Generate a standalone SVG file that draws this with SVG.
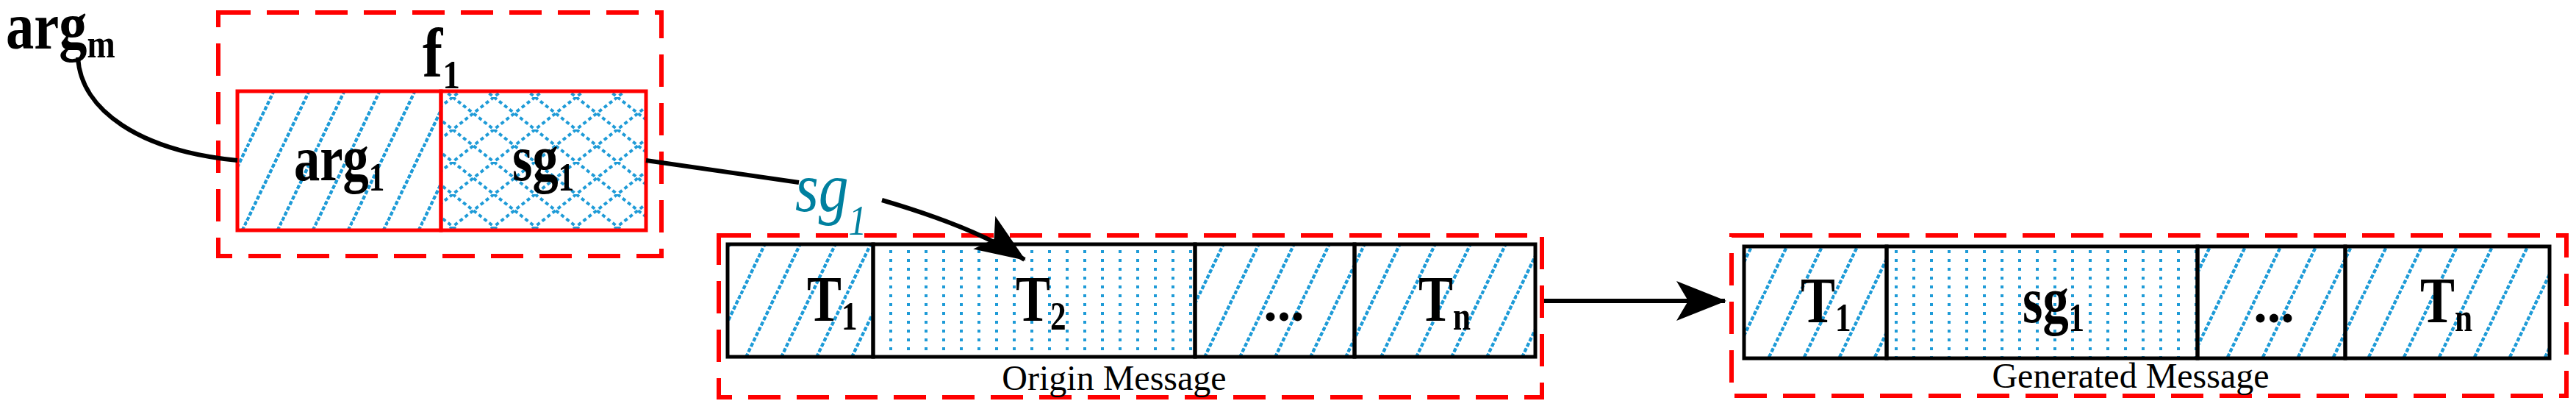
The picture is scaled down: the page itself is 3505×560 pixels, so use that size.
<svg xmlns="http://www.w3.org/2000/svg" width="3505" height="560" viewBox="0 0 3505 560">
<defs>
<pattern id="hatch" patternUnits="userSpaceOnUse" width="48" height="100">
<line x1="-24" y1="150" x2="48" y2="0" stroke="#1E9BD7" stroke-width="4" stroke-dasharray="5 3"/>
<line x1="0" y1="100" x2="48" y2="0" stroke="#1E9BD7" stroke-width="4" stroke-dasharray="5 3"/>
<line x1="24" y1="150" x2="72" y2="50" stroke="#1E9BD7" stroke-width="4" stroke-dasharray="5 3"/>
<line x1="-24" y1="50" x2="24" y2="-50" stroke="#1E9BD7" stroke-width="4" stroke-dasharray="5 3"/>
</pattern>
<pattern id="cross" patternUnits="userSpaceOnUse" width="56" height="44">
<path d="M0,0 L56,44 M56,0 L0,44" stroke="#1E9BD7" stroke-width="4" stroke-dasharray="5 4"/>
</pattern>
<pattern id="dots" patternUnits="userSpaceOnUse" width="24" height="12">
<rect x="10" y="4" width="4" height="4" fill="#1E9BD7"/>
</pattern>
<marker id="ah" markerUnits="userSpaceOnUse" markerWidth="70" markerHeight="70" viewBox="0 0 70 70" refX="66" refY="35" orient="auto">
<path d="M0,8 L68,35 L0,62 L16,35 Z" fill="#000"/>
</marker>
</defs>
<style>
.dash{fill:none;stroke:#FF0000;stroke-width:6;stroke-dasharray:44 22;}
.red{stroke:#FF0000;stroke-width:5;}
.blk{stroke:#000;stroke-width:5;}
.b{font-family:"Liberation Serif","Times New Roman","DejaVu Serif",serif;font-weight:bold;fill:#000;}
.r{font-family:"Liberation Serif","Times New Roman","DejaVu Serif",serif;fill:#000;font-size:48px;}
.c{fill:none;stroke:#000;stroke-width:6;}
</style>

<g id="argm"><text class="b" transform="translate(8,66) scale(0.85,1)" font-size="90">arg<tspan font-size="54" dy="12">m</tspan></text></g>

<g id="f1">
<rect class="dash" x="297" y="17" width="603" height="331"/>
<text class="b" transform="translate(575,104) scale(0.85,1)" font-size="96">f<tspan font-size="56" dy="16">1</tspan></text>
<rect x="323" y="124" width="277" height="189" fill="url(#hatch)" class="red"/>
<rect x="600" y="124" width="279" height="189" fill="url(#cross)" class="red"/>
<text class="b" transform="translate(400,245) scale(0.8,1)" font-size="88">arg<tspan font-size="54" dy="14">1</tspan></text>
<text class="b" transform="translate(697,245) scale(0.8,1)" font-size="88">sg<tspan font-size="54" dy="14">1</tspan></text>
</g>

<g id="origin">
<rect class="dash" x="978" y="320" width="1120" height="220"/>
<rect x="990" y="332" width="198" height="153" fill="url(#hatch)" class="blk"/>
<rect x="1188" y="332" width="438" height="153" fill="url(#dots)" class="blk"/>
<rect x="1626" y="332" width="217" height="153" fill="url(#hatch)" class="blk"/>
<rect x="1843" y="332" width="246" height="153" fill="url(#hatch)" class="blk"/>
<text class="b" transform="translate(1098,436) scale(0.8,1)" font-size="88">T<tspan font-size="54" dy="12">1</tspan></text>
<text class="b" transform="translate(1382,436) scale(0.8,1)" font-size="88">T<tspan font-size="54" dy="12">2</tspan></text>
<text class="b" x="1747" y="436" font-size="74" text-anchor="middle">...</text>
<text class="b" transform="translate(1930,436) scale(0.8,1)" font-size="88">T<tspan font-size="54" dy="12">n</tspan></text>
<text class="r" x="1516" y="530" text-anchor="middle">Origin Message</text>
</g>

<g id="generated">
<rect class="dash" x="2356" y="320" width="1136" height="218"/>
<rect x="2373" y="335" width="194" height="152" fill="url(#hatch)" class="blk"/>
<rect x="2567" y="335" width="423" height="152" fill="url(#dots)" class="blk"/>
<rect x="2990" y="335" width="201" height="152" fill="url(#hatch)" class="blk"/>
<rect x="3191" y="335" width="278" height="152" fill="url(#hatch)" class="blk"/>
<text class="b" transform="translate(2450,438) scale(0.8,1)" font-size="88">T<tspan font-size="54" dy="12">1</tspan></text>
<text class="b" transform="translate(2752,438) scale(0.8,1)" font-size="88">sg<tspan font-size="54" dy="12">1</tspan></text>
<text class="b" x="3094" y="438" font-size="74" text-anchor="middle">...</text>
<text class="b" transform="translate(3293,438) scale(0.8,1)" font-size="88">T<tspan font-size="54" dy="12">n</tspan></text>
<text class="r" x="2899" y="527" text-anchor="middle">Generated Message</text>
</g>

<g id="connectors">
<path class="c" d="M106,78 C110,150 190,205 323,218"/>
<path class="c" d="M879,218 L1087,248"/>
<path class="c" d="M1200,272 Q1330,310 1394,353" marker-end="url(#ah)"/>
<path class="c" d="M2101,409 L2347,409" marker-end="url(#ah)"/>
<text transform="translate(1082,287) scale(0.85,1)" font-family="Liberation Serif,Times New Roman,serif" font-style="italic" font-size="96" fill="#00809F">sg<tspan font-size="58" dy="32">1</tspan></text>
</g>
</svg>
